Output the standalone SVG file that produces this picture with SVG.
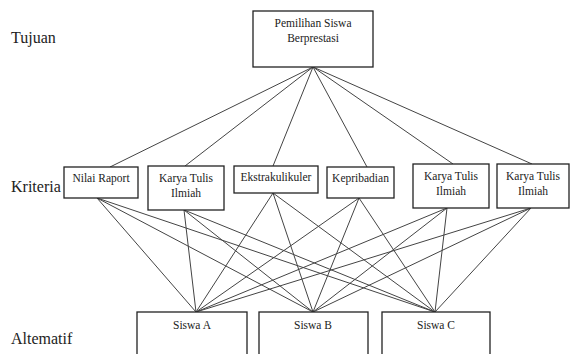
<svg xmlns="http://www.w3.org/2000/svg" width="570" height="354" viewBox="0 0 570 354">
<style>
.box{fill:#fff;stroke:#222;stroke-width:1.3}
.t{font-family:"Liberation Serif","Times New Roman","DejaVu Serif",serif;font-size:11.5px;fill:#222;text-anchor:middle}
.lbl{font-family:"Liberation Serif","Times New Roman","DejaVu Serif",serif;font-size:16px;fill:#222}
.c line{stroke:#444;stroke-width:1}
</style>
<rect width="570" height="354" fill="#fff"/>
<text class="lbl" x="11" y="43">Tujuan</text>
<text class="lbl" x="11" y="192">Kriteria</text>
<text class="lbl" x="11" y="344">Altematif</text>
<g class="c" id="connectors">
<line x1="313" y1="67" x2="110" y2="167"/>
<line x1="313" y1="67" x2="185" y2="166"/>
<line x1="313" y1="67" x2="273" y2="166"/>
<line x1="313" y1="67" x2="367" y2="167"/>
<line x1="313" y1="67" x2="453" y2="164"/>
<line x1="313" y1="67" x2="532" y2="164"/>
<line x1="97" y1="198" x2="196" y2="312"/>
<line x1="97" y1="198" x2="313" y2="312"/>
<line x1="97" y1="198" x2="435" y2="312"/>
<line x1="184" y1="210" x2="196" y2="312"/>
<line x1="184" y1="210" x2="313" y2="312"/>
<line x1="184" y1="210" x2="435" y2="312"/>
<line x1="273" y1="193" x2="196" y2="312"/>
<line x1="273" y1="193" x2="313" y2="312"/>
<line x1="273" y1="193" x2="435" y2="312"/>
<line x1="359" y1="198" x2="196" y2="312"/>
<line x1="359" y1="198" x2="313" y2="312"/>
<line x1="359" y1="198" x2="435" y2="312"/>
<line x1="447" y1="208" x2="196" y2="312"/>
<line x1="447" y1="208" x2="313" y2="312"/>
<line x1="447" y1="208" x2="435" y2="312"/>
<line x1="531" y1="208" x2="196" y2="312"/>
<line x1="531" y1="208" x2="313" y2="312"/>
<line x1="531" y1="208" x2="435" y2="312"/>
</g>
<g id="tujuan"><rect class="box" x="253" y="11" width="120" height="56"/><text class="t" x="313" y="27">Pemilihan Siswa</text><text class="t" x="313" y="42">Berprestasi</text></g>
<g id="k1"><rect class="box" x="64" y="167" width="74" height="31"/><text class="t" x="101" y="182">Nilai Raport</text></g>
<g id="k2"><rect class="box" x="148" y="166" width="76" height="44"/><text class="t" x="186" y="182">Karya Tulis</text><text class="t" x="186" y="197">Ilmiah</text></g>
<g id="k3"><rect class="box" x="234" y="166" width="84" height="27"/><text class="t" x="276" y="181">Ekstrakulikuler</text></g>
<g id="k4"><rect class="box" x="327" y="167" width="67" height="31"/><text class="t" x="360.5" y="182">Kepribadian</text></g>
<g id="k5"><rect class="box" x="413" y="164" width="76" height="44"/><text class="t" x="451" y="180">Karya Tulis</text><text class="t" x="451" y="195">Ilmiah</text></g>
<g id="k6"><rect class="box" x="497" y="164" width="72" height="44"/><text class="t" x="533" y="180">Karya Tulis</text><text class="t" x="533" y="195">Ilmiah</text></g>
<g id="a1"><rect class="box" x="137" y="312" width="110" height="50"/><text class="t" x="192" y="329">Siswa A</text></g>
<g id="a2"><rect class="box" x="259" y="312" width="109" height="50"/><text class="t" x="313" y="329">Siswa B</text></g>
<g id="a3"><rect class="box" x="382" y="312" width="108" height="50"/><text class="t" x="436" y="329">Siswa C</text></g>
</svg>
